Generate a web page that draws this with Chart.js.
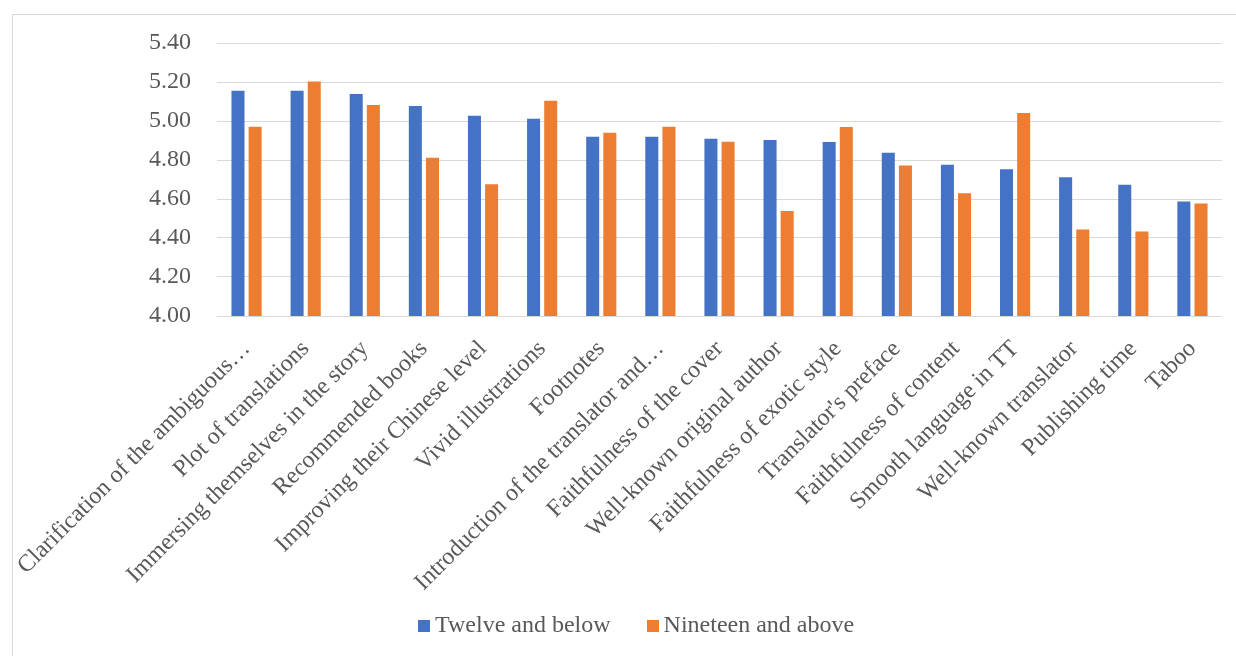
<!DOCTYPE html>
<html>
<head>
<meta charset="utf-8">
<script src="https://cdn.jsdelivr.net/npm/chart.js@4"></script>
<style>
  body { margin: 0; background: #fff; }
  #wrap { position: relative; width: 1236px; height: 656px; overflow: hidden; }
  #frame { position: absolute; left: 12px; top: 14px; width: 1240px; height: 660px; border: 1px solid #d9d9d9; box-sizing: border-box; }
  canvas { position: absolute; left: 0; top: 0; }
  #js-legend { position: absolute; left: 418px; top: 612px; font: 24px "Liberation Serif"; color: #595959; line-height: 24px; }
  #js-legend ul { list-style: none; margin: 0; padding: 0; display: flex; align-items: center; }
  #js-legend li { display: flex; align-items: center; white-space: nowrap; }
  #js-legend li + li { margin-left: 36px; }
  #js-legend span { display: inline-block; width: 12px; height: 12px; margin-right: 5px; position: relative; top: 2px; }
</style>
</head>
<body>
<div id="wrap">
  <div id="frame"></div>
  <canvas id="factor-chart" width="1236" height="656"></canvas>
  <div id="js-legend"></div>
</div>
<script>
const categories = [
  'Clarification of the ambiguous…', 'Plot of translations', 'Immersing themselves in the story',
  'Recommended books', 'Improving their Chinese level', 'Vivid illustrations', 'Footnotes',
  'Introduction of the translator and…', 'Faithfulness of the cover', 'Well-known original author',
  'Faithfulness of exotic style', "Translator's preface", 'Faithfulness of content',
  'Smooth language in TT', 'Well-known translator', 'Publishing time', 'Taboo'
];
const twelveAndBelow = [5.155, 5.155, 5.138, 5.077, 5.027, 5.012, 4.919, 4.919, 4.909, 4.902, 4.892, 4.837, 4.776, 4.752, 4.712, 4.673, 4.587];
const nineteenAndAbove = [4.971, 5.202, 5.082, 4.811, 4.676, 5.104, 4.940, 4.971, 4.894, 4.538, 4.969, 4.772, 4.630, 5.041, 4.444, 4.433, 4.577];
const seriesNames = ['Twelve and below', 'Nineteen and above'];
const colours = ['#4472c4', '#ed7d31'];

const serif = 'Liberation Serif';
const grey = '#595959';

window.addEventListener('DOMContentLoaded', () => {
  const box = document.getElementById('factor-chart');
  const legendBox = document.getElementById('js-legend');
  new Chart(box, {
    type: 'bar',
    data: {
      labels: categories,
      datasets: [
        { label: seriesNames[0], data: twelveAndBelow, backgroundColor: colours[0] },
        { label: seriesNames[1], data: nineteenAndAbove, backgroundColor: colours[1] }
      ]
    },
    options: {
      responsive: false,
      animation: false,
      categoryPercentage: 0.58,
      barPercentage: 0.76,
      layout: { padding: { left: 49, right: 14, top: 43, bottom: 0 } },
      plugins: {
        legend: { display: false }, // drawn as html below the canvas
        tooltip: { enabled: false }
      },
      scales: {
        x: {
          grid: { display: false },
          border: { display: false },
          ticks: {
            autoSkip: false, maxRotation: 45, minRotation: 45, padding: 11,
            color: grey, font: { family: serif, size: 24 }
          },
          afterFit: (scale) => {
            // keep the long rotated labels from squeezing the plot area
            scale.height = 340;
            scale.paddingLeft = 0;
            scale.paddingRight = 0;
          }
        },
        y: {
          min: 4, max: 5.4,
          border: { display: false },
          grid: { color: '#d9d9d9', lineWidth: 1, drawTicks: false },
          ticks: {
            stepSize: 0.2, padding: 26, color: grey, font: { family: serif, size: 24 },
            callback: (v) => Number(v).toFixed(2)
          },
          afterFit: (scale) => { scale.width = 168; }
        }
      }
    },
    plugins: [{
      beforeInit: function(chart) {
        const ul = document.createElement('ul');
        chart.data.datasets.forEach((ds) => {
          ul.innerHTML += `<li><span style="background-color: ${ ds.backgroundColor }"></span>${ ds.label }</li>`;
        });
        legendBox.appendChild(ul);
      }
    }]
  });
});
</script>
</body>
</html>
